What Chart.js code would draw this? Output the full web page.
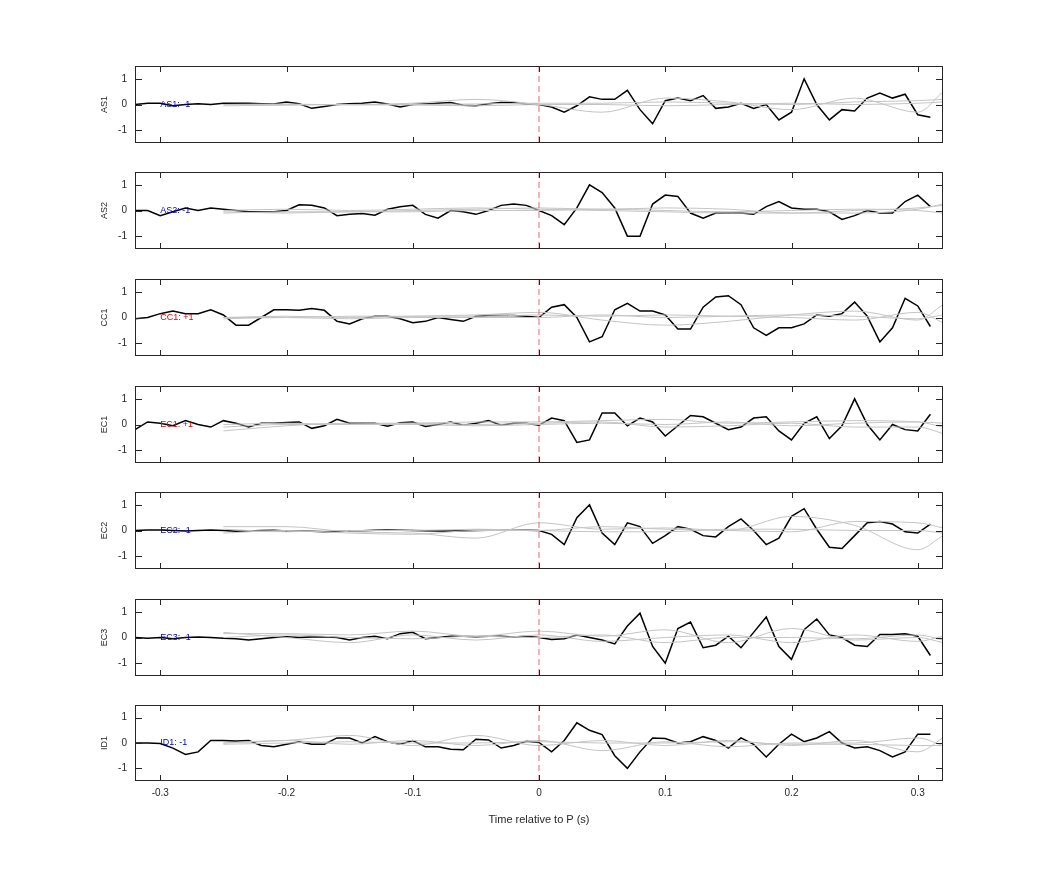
<!DOCTYPE html>
<html><head><meta charset="utf-8">
<script src="https://cdn.jsdelivr.net/npm/chart.js@4.4.1/dist/chart.umd.min.js"></script>
<style>
body{margin:0;background:#fff;width:1042px;height:875px;position:relative;overflow:hidden;font-family:"Liberation Sans",Arial,sans-serif}
.p{position:absolute;left:97px;width:863px}
</style></head><body>
<script>
// time axis: black traces every 10 ms, gray smooth traces coarser
const tBlack=[];for(let i=-32;i<=31;i++)tBlack.push(i/100);
const tGray=[-0.25,-0.2,-0.15,-0.1,-0.05,0,0.05,0.1,0.15,0.2,0.25,0.3,0.32];
const xTicks=[-0.3,-0.2,-0.1,0,0.1,0.2,0.3];
const yTicks=[-1,0,1];
const names=['AS1','AS2','CC1','EC1','EC2','EC3','ID1'];
const signs=['-1','-1','+1','+1','-1','-1','-1'];

const AS1=[0,0.05,0.05,-0.05,0,0.03,0,0.05,0.05,0.05,0.03,0.02,0.1,0.03,-0.15,-0.08,0,0.03,0.05,0.1,0.02,-0.1,0,0.02,0.05,0.08,-0.03,-0.05,0.03,0.08,0.08,0.02,
 0,-0.1,-0.3,-0.05,0.3,0.2,0.2,0.55,-0.2,-0.75,0.15,0.25,0.15,0.35,-0.15,-0.1,0.05,-0.15,0,-0.6,-0.3,1.0,0,-0.6,-0.2,-0.25,0.25,0.45,0.25,0.4,-0.4,-0.5];
const AS2=[0,0,-0.2,-0.05,0.1,0,0.1,0.05,0,-0.05,-0.05,-0.05,0,0.22,0.2,0.1,-0.2,-0.15,-0.12,-0.18,0.05,0.15,0.2,-0.15,-0.3,0,-0.05,-0.15,0,0.2,0.25,0.2,
 0,-0.2,-0.55,0.1,1.0,0.7,0.1,-1.0,-1.0,0.25,0.6,0.55,-0.1,-0.3,-0.1,-0.1,-0.1,-0.15,0.15,0.35,0.1,0.05,0.05,-0.05,-0.35,-0.2,0,-0.1,-0.1,0.35,0.6,0.15];
const CC1=[-0.05,0,0.15,0.25,0.15,0.15,0.3,0.1,-0.3,-0.3,0,0.3,0.3,0.28,0.35,0.28,-0.15,-0.25,-0.05,0.05,0.05,-0.05,-0.2,-0.15,0,-0.08,-0.15,0.05,0.08,0.08,0.08,0.05,
 0,0.4,0.5,0,-0.95,-0.75,0.3,0.55,0.25,0.25,0.1,-0.45,-0.45,0.4,0.8,0.85,0.5,-0.4,-0.7,-0.4,-0.4,-0.25,0.1,0.05,0.15,0.6,0.05,-0.95,-0.4,0.75,0.45,-0.35];
const EC1=[-0.2,0.1,0.05,-0.05,0.15,0,-0.1,0.15,0.05,-0.1,0.05,0.05,0.08,0.1,-0.15,-0.05,0.2,0.05,0.05,0.05,-0.07,0.07,0.1,-0.08,0,0.1,-0.03,0.05,0.15,-0.03,0.05,0.05,
 -0.03,0.25,0.15,-0.7,-0.6,0.45,0.45,-0.05,0.25,0.1,-0.45,-0.05,0.35,0.3,0.05,-0.2,-0.1,0.25,0.3,-0.25,-0.6,0.05,0.3,-0.55,-0.05,1.0,0,-0.6,0,-0.2,-0.25,0.4];
const EC2=[0,0.02,0.02,0,-0.02,0,0.02,0,-0.03,-0.02,0,0.01,-0.02,-0.01,-0.03,-0.05,-0.04,-0.02,-0.01,0.01,0.02,0.01,0,-0.01,-0.02,-0.02,-0.01,0,0.01,0.01,0.01,0.01,
 0,-0.15,-0.55,0.5,1.0,-0.1,-0.55,0.3,0.15,-0.5,-0.2,0.15,0.05,-0.2,-0.25,0.15,0.45,0,-0.55,-0.3,0.55,0.85,0.05,-0.65,-0.7,-0.2,0.3,0.35,0.25,-0.05,-0.1,0.25];
const EC3=[0,-0.03,0,-0.05,0,0.02,0,-0.03,-0.05,-0.1,-0.05,0,0.03,0,0.02,0.03,0,-0.1,0,0.05,-0.05,0.15,0.2,-0.05,0,0.05,0.05,0.03,0.05,0.05,0.02,0.05,
 0,-0.08,-0.05,0.1,0,-0.1,-0.25,0.45,0.95,-0.35,-1.0,0.35,0.6,-0.4,-0.3,0.05,-0.4,0.2,0.8,-0.35,-0.85,0.3,0.72,0.1,0,-0.3,-0.35,0.12,0.12,0.15,0.05,-0.7];
const ID1=[0,0,-0.02,-0.2,-0.45,-0.35,0.1,0.1,0.08,0.1,-0.1,-0.15,-0.05,0.05,-0.05,-0.05,0.2,0.2,0,0.25,0.05,-0.05,0.1,-0.15,-0.15,-0.25,-0.27,0.15,0.12,-0.2,-0.1,0.07,
 0.02,-0.35,0.1,0.8,0.5,0.33,-0.5,-1.0,-0.35,0.2,0.18,0,0.05,0.25,0.1,-0.2,0.2,-0.05,-0.55,-0.05,0.35,0.05,0.2,0.45,0,-0.2,-0.15,-0.3,-0.55,-0.35,0.35,0.35];
const black=[AS1,AS2,CC1,EC1,EC2,EC3,ID1];

// gray reference traces, sampled at tGray
const gray=[
 [[0,0,0,0.05,0.2,0,-0.3,0.25,0.1,-0.2,0.25,-0.3,0.5],[0,0.02,-0.02,0,0.02,0.05,0.05,0.1,0.05,0,0.1,0.15,0.2],[-0.05,-0.03,0,-0.02,-0.05,0,0,-0.05,0,0.05,0,0.05,0.1]],
 [[-0.1,-0.05,-0.05,0,0.05,0.1,0.05,0.1,0.05,-0.1,-0.1,0.05,0.25],[0,0.05,0,0.05,0.1,0.05,0,-0.05,-0.1,-0.1,0,0.1,0.2],[-0.05,-0.1,-0.05,-0.05,0,0,0.05,0,-0.05,0,0.05,0,-0.1]],
 [[0,0.05,0,0.05,0.1,0.2,-0.1,-0.3,-0.15,0.1,0.25,-0.1,0.5],[0,0,0.05,0.05,0.05,0.1,0.05,0.1,0.05,0,-0.1,0.2,-0.2],[-0.05,0,-0.05,0,0,0,0.1,0,0.05,0.1,0.05,-0.05,0.1]],
 [[-0.25,-0.05,0.05,0.05,0.1,0.1,0.15,0.2,0.05,0.1,0.15,0.1,-0.1],[0,0.05,0,0.05,0,0.05,0.1,-0.1,-0.05,0.05,-0.1,-0.1,-0.35],[-0.1,0,0,0,-0.05,0,0.05,0,0.1,-0.05,0.05,0.1,0.05]],
 [[0.15,0.15,-0.05,-0.1,-0.3,0.3,0.05,0.1,0,0.55,0.2,-0.75,-0.2],[-0.1,0,-0.1,-0.15,0,0,0.15,0.05,0,-0.05,0.35,0.3,0.1],[0.05,-0.05,0,0,0.05,0,-0.05,-0.05,0.05,0.05,0,0,-0.1]],
 [[0.15,0.15,0.1,0.25,0.05,0.25,0.05,0.3,-0.2,0.35,-0.1,0,-0.2],[0.2,0,-0.2,0.1,-0.1,0.1,-0.15,0,0.1,-0.2,0.1,-0.15,0.05],[0,0.1,0,-0.05,0.05,0,0.1,-0.2,0,0,-0.05,0.1,-0.1]],
 [[0,0.1,0.3,-0.1,0.3,-0.1,0.1,-0.1,0.1,-0.1,0.1,-0.35,0.2],[0,0.1,-0.05,0.1,-0.1,0.1,-0.3,0.05,-0.15,0,0,0.2,-0.1],[-0.05,0,0.05,0,0,0.05,0,0,0.05,-0.05,-0.05,-0.1,-0.1]]
];

const tops=[66,172,279,386,492,599,705];
const frame={id:'frame',
 afterDatasetsDraw(c){
  const a=c.chartArea,g=c.ctx,xs=c.scales.x,ys=c.scales.y;
  g.save();
  // dashed zero line
  g.strokeStyle='rgba(225,90,90,0.9)';g.lineWidth=1;g.setLineDash([6,4]);
  const x0=xs.getPixelForValue(0);
  g.beginPath();g.moveTo(x0,a.top);g.lineTo(x0,a.bottom);g.stroke();
  g.setLineDash([]);
  // box and inward ticks
  g.strokeStyle='#262626';g.lineWidth=1;
  g.strokeRect(a.left+0.5,a.top+0.5,a.right-a.left-1,a.bottom-a.top-1);
  g.beginPath();
  xTicks.forEach(v=>{const p=Math.round(xs.getPixelForValue(v))+0.5;g.moveTo(p,a.top);g.lineTo(p,a.top+6);g.moveTo(p,a.bottom);g.lineTo(p,a.bottom-6);});
  yTicks.forEach(v=>{const p=Math.round(ys.getPixelForValue(v))+0.5;g.moveTo(a.left,p);g.lineTo(a.left+7,p);g.moveTo(a.right,p);g.lineTo(a.right-7,p);});
  g.stroke();
  const i=c.options.plugins.frame.idx;
  g.font='9px "Liberation Sans",Arial';g.textBaseline='middle';
  g.fillStyle=signs[i]==='+1'?'#e00000':'#0000cc';
  g.fillText(names[i]+': '+signs[i],xs.getPixelForValue(-0.3),ys.getPixelForValue(0));
  g.restore();
 }};

names.forEach((nm,i)=>{
  const last=i===names.length-1;
  const cv=document.createElement('canvas');
  cv.className='p';
  const h=last?140:105;
  cv.style.top=(tops[i]-14)+'px';cv.style.height=h+'px';cv.width=863;cv.height=h;
  document.body.appendChild(cv);
  const ds=gray[i].map(s=>({data:tGray.map((t,k)=>({x:t,y:s[k]})),borderColor:'#c4c4c4',borderWidth:1,pointRadius:0,tension:0.4,cubicInterpolationMode:'monotone'}));
  ds.push({data:tBlack.map((t,k)=>({x:t,y:black[i][k]})),borderColor:'#000',borderWidth:1.5,pointRadius:0,tension:0});
  new Chart(cv,{type:'line',data:{datasets:ds},plugins:[frame],
   options:{responsive:false,animation:false,
    layout:{padding:{top:0,right:17,bottom:0,left:0}},
    plugins:{legend:{display:false},tooltip:{enabled:false},frame:{idx:i}},
    scales:{
     x:{type:'linear',min:-0.32,max:0.32,grid:{display:false,drawTicks:false},border:{display:false},
        afterBuildTicks:s=>{s.ticks=xTicks.map(v=>({value:v}));},
        afterFit:s=>{s.height=last?50:0;},
        ticks:{display:last,color:'#262626',font:{size:10},padding:6,callback:v=>String(v)},
        title:{display:last,text:'Time relative to P (s)',color:'#262626',font:{size:11},padding:{top:4}}},
     y:{min:-1.5,max:1.5,grid:{display:false,drawTicks:false},border:{display:false},
        afterBuildTicks:s=>{s.ticks=yTicks.map(v=>({value:v}));},
        afterFit:s=>{s.width=38;},
        ticks:{color:'#262626',font:{size:10},padding:8},
        title:{display:true,text:nm,color:'#262626',font:{size:9},padding:2}}
    }}});
});
</script>
</body></html>
